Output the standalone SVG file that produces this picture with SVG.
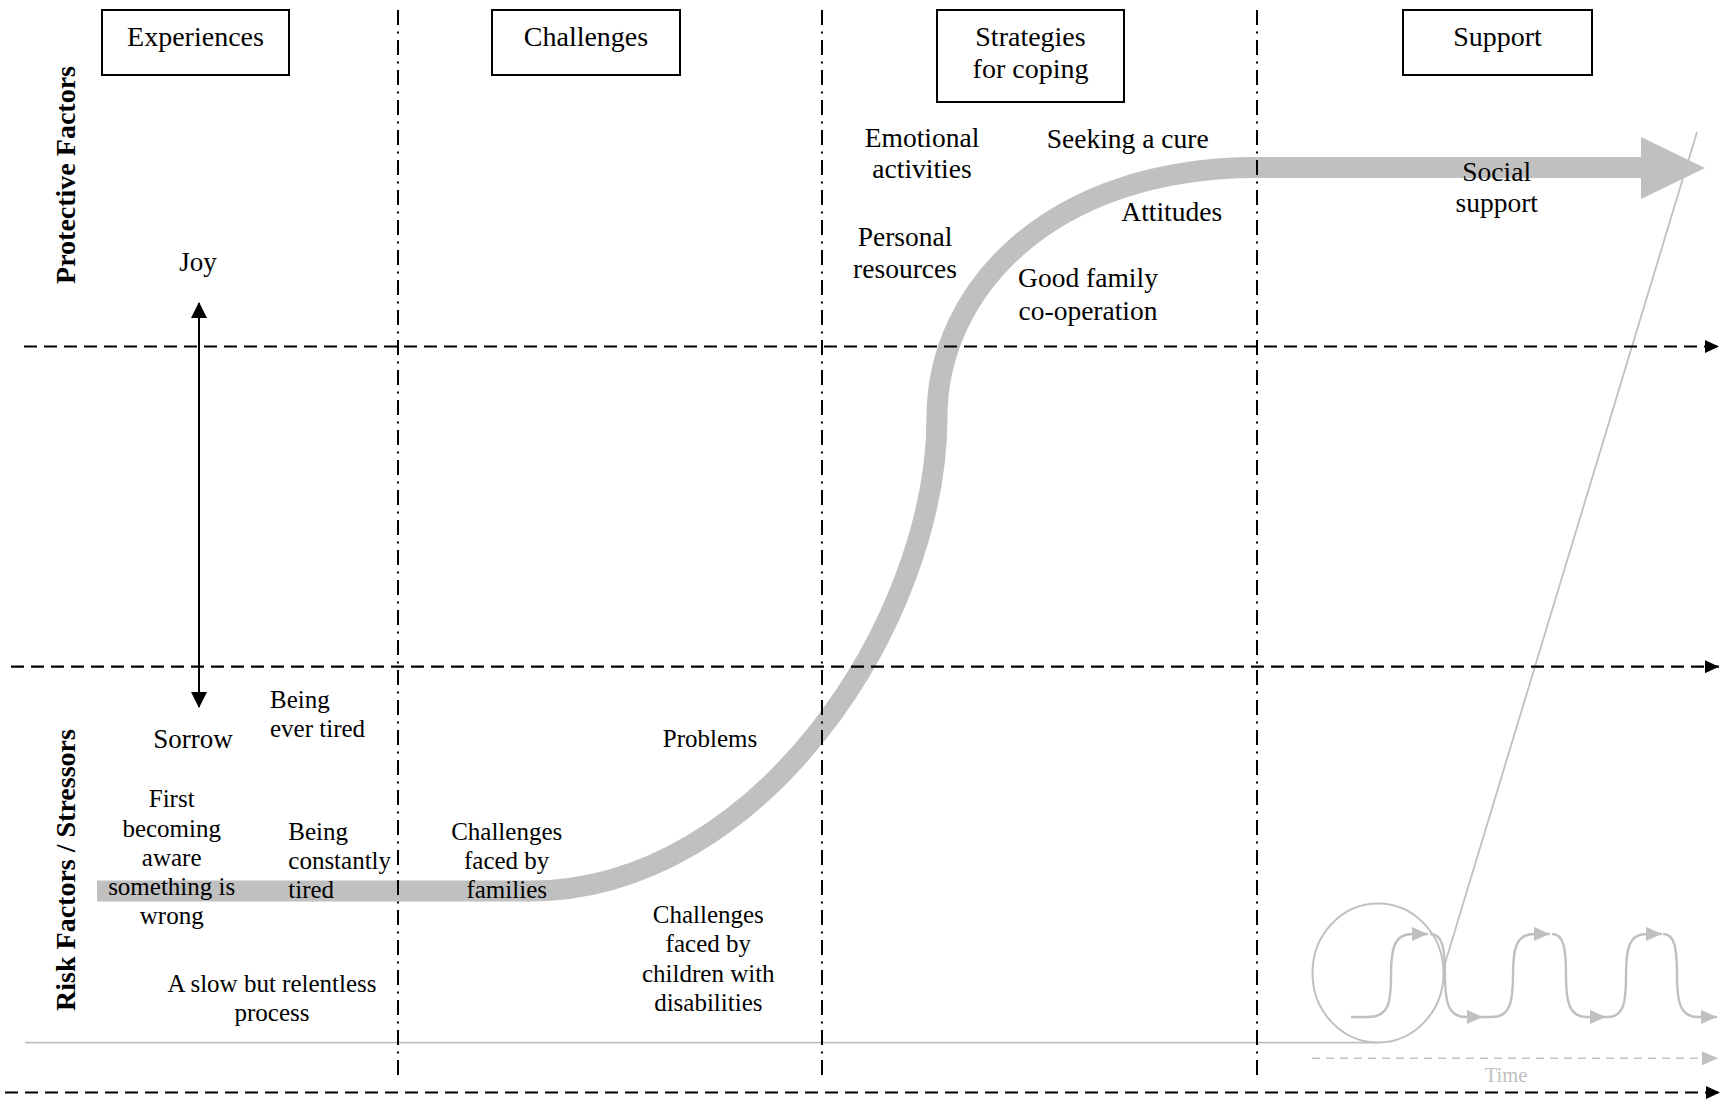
<svg xmlns="http://www.w3.org/2000/svg" width="1720" height="1099" viewBox="0 0 1720 1099">
<defs>
<style>
text{font-family:"Liberation Serif","Times New Roman",serif;fill:#000}
.hd{font-size:28px;text-anchor:middle}
.lb{font-size:27.5px;text-anchor:middle}
.sm{font-size:25px;text-anchor:middle}
.sl{font-size:25px;text-anchor:start}
.ax{font-size:28px;font-weight:bold;text-anchor:middle}
.box{fill:#fff;stroke:#000;stroke-width:2}
.hdash{stroke:#000;stroke-width:2.2;stroke-dasharray:13 7;fill:none}
.vdash{stroke:#000;stroke-width:2;stroke-dasharray:15 6.5 2 6.5;fill:none}
.gw{stroke:#c0c0c0;stroke-width:2.4;fill:none}
</style>
<marker id="ak" markerUnits="userSpaceOnUse" markerWidth="14" markerHeight="13" viewBox="0 0 14 13" refX="14" refY="6.5" orient="auto">
<path d="M0 0 L14 6.5 L0 13 z" fill="#000"/>
</marker>
<marker id="ad" markerUnits="userSpaceOnUse" markerWidth="16" markerHeight="16" viewBox="0 0 16 16" refX="15" refY="8" orient="auto-start-reverse">
<path d="M0 0 L16 8 L0 16 z" fill="#000"/>
</marker>
<marker id="ag" markerUnits="userSpaceOnUse" markerWidth="16" markerHeight="14" viewBox="0 0 16 14" refX="16" refY="7" orient="auto">
<path d="M0 0 L16 7 L0 14 z" fill="#c0c0c0"/>
</marker>
</defs>
<rect width="1720" height="1099" fill="#fff"/>

<g id="band">
<path d="M97 891 H530 C760 891 937 620 937 417 C937 290 1050 167.5 1257 167.5 H1642" fill="none" stroke="#c0c0c0" stroke-width="21"/>
<polygon points="1641,137 1705,168 1641,199" fill="#c0c0c0"/>
</g>

<g id="inset">
<line x1="25" y1="1042.7" x2="1378" y2="1042.7" stroke="#c0c0c0" stroke-width="1.8"/>
<ellipse cx="1378" cy="973" rx="65.5" ry="69.5" fill="none" stroke="#c0c0c0" stroke-width="2"/>
<line x1="1697" y1="132" x2="1443" y2="970" stroke="#c0c0c0" stroke-width="1.8"/>
<path class="gw" d="M1351 1017 H1368 C1389 1017 1391 1002 1391 975.5 C1391 949 1394 934 1412 934 H1428" marker-end="url(#ag)"/>
<path class="gw" d="M1430 934 C1443 934 1445 949 1445 975.5 C1445 1002 1448 1017 1466 1017 H1483" marker-end="url(#ag)"/>
<path class="gw" d="M1483 1017 H1492 C1510 1017 1513 1002 1513 975.5 C1513 949 1516 934 1534 934 H1550" marker-end="url(#ag)"/>
<path class="gw" d="M1552 934 C1564 934 1566 949 1566 975.5 C1566 1002 1569 1017 1587 1017 H1606" marker-end="url(#ag)"/>
<path class="gw" d="M1606 1017 H1608 C1624 1017 1626 1002 1626 975.5 C1626 949 1629 934 1646 934 H1662" marker-end="url(#ag)"/>
<path class="gw" d="M1663 934 C1675 934 1677 949 1677 975.5 C1677 1002 1680 1017 1698 1017 H1717" marker-end="url(#ag)"/>
<line x1="1312" y1="1058.3" x2="1718" y2="1058.3" stroke="#c0c0c0" stroke-width="1.6" stroke-dasharray="8 6" marker-end="url(#ag)"/>
<text x="1506" y="1081.7" style="font-size:20.5px;text-anchor:middle;fill:#c0c0c0">Time</text>
</g>

<g id="connectors">
<line class="vdash" x1="398" y1="10" x2="398" y2="1076"/>
<line class="vdash" x1="822" y1="10" x2="822" y2="1076"/>
<line class="vdash" x1="1257" y1="10" x2="1257" y2="1076"/>
<line class="hdash" x1="24" y1="346.5" x2="1719" y2="346.5" marker-end="url(#ak)"/>
<line class="hdash" x1="11" y1="666.7" x2="1719" y2="666.7" marker-end="url(#ak)"/>
<line class="hdash" x1="5" y1="1092.5" x2="1720" y2="1092.5" marker-end="url(#ak)"/>
<line x1="199" y1="303" x2="199" y2="707" stroke="#000" stroke-width="2" marker-start="url(#ad)" marker-end="url(#ad)"/>
</g>

<g id="axis-protective"><text class="ax" transform="translate(75,175) rotate(-90)">Protective Factors</text></g>
<g id="axis-risk"><text class="ax" transform="translate(75,870) rotate(-90)">Risk Factors / Stressors</text></g>

<g id="h-experiences"><rect class="box" x="102" y="10" width="187" height="65"/><text class="hd" x="195.5" y="46">Experiences</text></g>
<g id="h-challenges"><rect class="box" x="492" y="10" width="188" height="65"/><text class="hd" x="586" y="46">Challenges</text></g>
<g id="h-strategies"><rect class="box" x="937" y="10" width="187" height="92"/><text class="hd" x="1030.5" y="46">Strategies</text><text class="hd" x="1030.5" y="77.5">for coping</text></g>
<g id="h-support"><rect class="box" x="1403" y="10" width="189" height="65"/><text class="hd" x="1497.5" y="46">Support</text></g>

<g id="joy"><text class="lb" x="198" y="270.5" style="font-size:27px">Joy</text></g>
<g id="sorrow"><text class="lb" x="193" y="748" style="font-size:27px">Sorrow</text></g>
<g id="ever-tired"><text class="sl" x="270" y="708">Being</text><text class="sl" x="270" y="737">ever tired</text></g>
<g id="first-aware"><text class="sm" x="171.7" y="806.7">First</text><text class="sm" x="171.7" y="837">becoming</text><text class="sm" x="171.7" y="866">aware</text><text class="sm" x="171.7" y="895">something is</text><text class="sm" x="171.7" y="924">wrong</text></g>
<g id="constantly-tired"><text class="sl" x="288.3" y="840">Being</text><text class="sl" x="288.3" y="869.3">constantly</text><text class="sl" x="288.3" y="898.3">tired</text></g>
<g id="slow-process"><text class="sm" x="272" y="991.7">A slow but relentless</text><text class="sm" x="272" y="1020.7">process</text></g>
<g id="problems"><text class="sm" x="710" y="747.3">Problems</text></g>
<g id="families"><text class="sm" x="506.7" y="840">Challenges</text><text class="sm" x="506.7" y="869.3">faced by</text><text class="sm" x="506.7" y="898.3">families</text></g>
<g id="children"><text class="sm" x="708.3" y="923.3">Challenges</text><text class="sm" x="708.3" y="952.3">faced by</text><text class="sm" x="708.3" y="981.7">children with</text><text class="sm" x="708.3" y="1010.7">disabilities</text></g>
<g id="emotional"><text class="lb" x="922" y="146.7">Emotional</text><text class="lb" x="922" y="178.3">activities</text></g>
<g id="cure"><text class="lb" x="1127.7" y="148.3">Seeking a cure</text></g>
<g id="attitudes"><text class="lb" x="1171.7" y="220.7">Attitudes</text></g>
<g id="personal"><text class="lb" x="905" y="246">Personal</text><text class="lb" x="905" y="278.3">resources</text></g>
<g id="family-coop"><text class="lb" x="1088" y="287.3">Good family</text><text class="lb" x="1088" y="320">co-operation</text></g>
<g id="social"><text class="lb" x="1496.7" y="181">Social</text><text class="lb" x="1496.7" y="212">support</text></g>
</svg>
